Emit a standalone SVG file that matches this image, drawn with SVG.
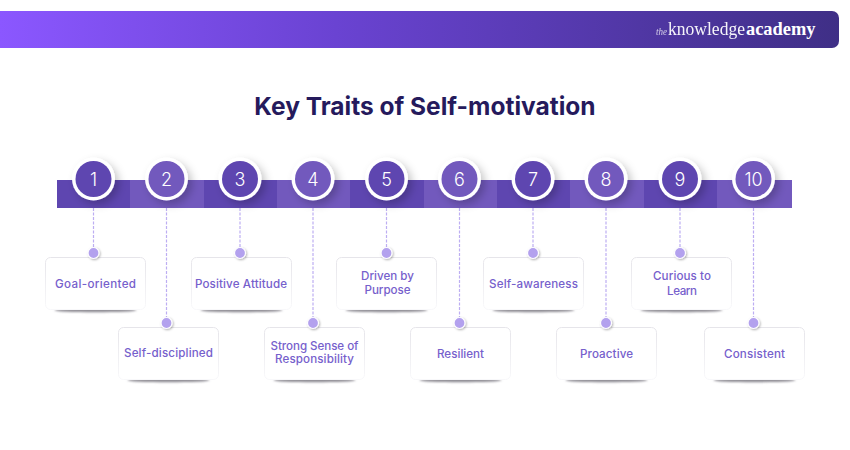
<svg xmlns="http://www.w3.org/2000/svg" width="850" height="450" viewBox="0 0 850 450">
<style>
text{font-family:"Inter","Liberation Sans",sans-serif}
.title{font-size:24.5px;font-weight:700;fill:#251a5c;text-anchor:middle}
.label{font-size:11.600px;font-weight:500;fill:#7660cc;text-anchor:middle}
.num{font-size:18px;font-weight:300;fill:#fff;text-anchor:middle}
.card{fill:#fff;stroke:url(#cardline);stroke-width:1}
.ring{fill:#fff;filter:url(#ds)}
.d{fill:#5e46b0}.l{fill:#7259bd}
.conn{stroke:#bdaef2;stroke-width:1.200;stroke-dasharray:3 1.500;fill:none}
.dot{fill:#b3a1ee;stroke:#fff;stroke-width:1.200;filter:url(#ds2)}
.shade{fill:#8f8d94;filter:url(#bl)}
.logo{font-family:"Liberation Serif",serif;fill:#fff}
</style>
<defs>
<linearGradient id="hdr" x1="0" y1="0" x2="1" y2="0"><stop offset="0" stop-color="#8b57ff"/><stop offset=".4" stop-color="#6a43d2"/><stop offset="1" stop-color="#3f2f86"/></linearGradient>
<linearGradient id="cardline" x1="0" y1="0" x2="0" y2="1"><stop offset="0" stop-color="#e6e5ea"/><stop offset="1" stop-color="#f8f8fa"/></linearGradient>
<filter id="ds" x="-50%" y="-50%" width="220%" height="220%"><feDropShadow dx="4" dy="4" stdDeviation="4" flood-color="#000" flood-opacity=".22"/></filter>
<filter id="ds2" x="-50%" y="-50%" width="200%" height="200%"><feDropShadow dx="1" dy="1" stdDeviation=".8" flood-color="#000" flood-opacity=".3"/></filter>
<filter id="bl" x="-20%" y="-200%" width="140%" height="500%"><feGaussianBlur stdDeviation="1.200"/></filter>
</defs>
<g id="header">
<path d="M0 11H832a7 7 0 0 1 7 7V41a7 7 0 0 1-7 7H0Z" fill="url(#hdr)"/>
<text class="logo" x="656" y="35" font-size="11" font-style="italic" opacity=".75" textLength="11" lengthAdjust="spacingAndGlyphs">the</text>
<text class="logo" x="668" y="35" font-size="18" opacity=".95" textLength="77" lengthAdjust="spacingAndGlyphs">knowledge</text>
<text class="logo" x="746" y="35" font-size="18" font-weight="700" textLength="69.500" lengthAdjust="spacingAndGlyphs">academy</text>
</g>
<text class="title" x="425" y="115">Key Traits of Self-motivation</text>
<g id="bar">
<rect class="d" x="57" y="180" width="73" height="28"/><rect class="l" x="130" y="180" width="74" height="28"/><rect class="d" x="204" y="180" width="73" height="28"/><rect class="l" x="277" y="180" width="73" height="28"/><rect class="d" x="350" y="180" width="74" height="28"/><rect class="l" x="424" y="180" width="73" height="28"/><rect class="d" x="497" y="180" width="73" height="28"/><rect class="l" x="570" y="180" width="74" height="28"/><rect class="d" x="644" y="180" width="73" height="28"/><rect class="l" x="717" y="180" width="75" height="28"/>
</g>
<g id="connectors">
<path class="conn" d="M93.500 208V253M166.500 208V323M240 208V253M313 208V323M386.500 208V253M459.500 208V323M533 208V253M606 208V323M680 208V253M753.500 208V323"/>
</g>
<g id="node1"><circle class="ring" cx="93.500" cy="179" r="21.500"/><circle class="d" cx="93.500" cy="179" r="18"/><text class="num" x="93.500" y="185.500">1</text><ellipse class="shade" cx="95.500" cy="310" rx="41" ry="2.300"/><rect class="card" x="45.500" y="257.500" width="100" height="52" rx="5"/><circle class="dot" cx="93.500" cy="253" r="5.500"/><text class="label" x="95.500" y="287.500" textLength="81">Goal-oriented</text></g>
<g id="node2"><circle class="ring" cx="166.500" cy="179" r="21.500"/><circle class="l" cx="166.500" cy="179" r="18"/><text class="num" x="166.500" y="185.500">2</text><ellipse class="shade" cx="168.500" cy="380" rx="41" ry="2.300"/><rect class="card" x="118.500" y="327.500" width="100" height="52" rx="5"/><circle class="dot" cx="166.500" cy="323" r="5.500"/><text class="label" x="168.500" y="356.500" textLength="89">Self-disciplined</text></g>
<g id="node3"><circle class="ring" cx="240" cy="179" r="21.500"/><circle class="d" cx="240" cy="179" r="18"/><text class="num" x="240" y="185.500">3</text><ellipse class="shade" cx="241.500" cy="310" rx="41" ry="2.300"/><rect class="card" x="191.500" y="257.500" width="100" height="52" rx="5"/><circle class="dot" cx="240" cy="253" r="5.500"/><text class="label" x="241" y="287.500" textLength="92">Positive Attitude</text></g>
<g id="node4"><circle class="ring" cx="313" cy="179" r="21.500"/><circle class="l" cx="313" cy="179" r="18"/><text class="num" x="313" y="185.500">4</text><ellipse class="shade" cx="314.500" cy="380" rx="41" ry="2.300"/><rect class="card" x="264.500" y="327.500" width="100" height="52" rx="5"/><circle class="dot" cx="313" cy="323" r="5.500"/><text class="label" x="314.500" y="349.500" textLength="88">Strong Sense of</text><text class="label" x="314.500" y="363" textLength="79">Responsibility</text></g>
<g id="node5"><circle class="ring" cx="386.500" cy="179" r="21.500"/><circle class="d" cx="386.500" cy="179" r="18"/><text class="num" x="386.500" y="185.500">5</text><ellipse class="shade" cx="386.500" cy="310" rx="41" ry="2.300"/><rect class="card" x="336.500" y="257.500" width="100" height="52" rx="5"/><circle class="dot" cx="386.500" cy="253" r="5.500"/><text class="label" x="387.500" y="280" textLength="53">Driven by</text><text class="label" x="387.500" y="294" textLength="46">Purpose</text></g>
<g id="node6"><circle class="ring" cx="459.500" cy="179" r="21.500"/><circle class="l" cx="459.500" cy="179" r="18"/><text class="num" x="459.500" y="185.500">6</text><ellipse class="shade" cx="460.500" cy="380" rx="41" ry="2.300"/><rect class="card" x="410.500" y="327.500" width="100" height="52" rx="5"/><circle class="dot" cx="459.500" cy="323" r="5.500"/><text class="label" x="460.500" y="357.500" textLength="47">Resilient</text></g>
<g id="node7"><circle class="ring" cx="533" cy="179" r="21.500"/><circle class="d" cx="533" cy="179" r="18"/><text class="num" x="533" y="185.500">7</text><ellipse class="shade" cx="533.500" cy="310" rx="41" ry="2.300"/><rect class="card" x="483.500" y="257.500" width="100" height="52" rx="5"/><circle class="dot" cx="533" cy="253" r="5.500"/><text class="label" x="533.500" y="287.500" textLength="89">Self-awareness</text></g>
<g id="node8"><circle class="ring" cx="606" cy="179" r="21.500"/><circle class="l" cx="606" cy="179" r="18"/><text class="num" x="606" y="185.500">8</text><ellipse class="shade" cx="606.500" cy="380" rx="41" ry="2.300"/><rect class="card" x="556.500" y="327.500" width="100" height="52" rx="5"/><circle class="dot" cx="606" cy="323" r="5.500"/><text class="label" x="606.500" y="357.500" textLength="53">Proactive</text></g>
<g id="node9"><circle class="ring" cx="680" cy="179" r="21.500"/><circle class="d" cx="680" cy="179" r="18"/><text class="num" x="680" y="185.500">9</text><ellipse class="shade" cx="681.500" cy="310" rx="41" ry="2.300"/><rect class="card" x="631.500" y="257.500" width="100" height="52" rx="5"/><circle class="dot" cx="680" cy="253" r="5.500"/><text class="label" x="682" y="280" textLength="58">Curious to</text><text class="label" x="682" y="294.500" textLength="30">Learn</text></g>
<g id="node10"><circle class="ring" cx="753.500" cy="179" r="21.500"/><circle class="l" cx="753.500" cy="179" r="18"/><text class="num" x="753.500" y="185.500">10</text><ellipse class="shade" cx="754.500" cy="380" rx="41" ry="2.300"/><rect class="card" x="704.500" y="327.500" width="100" height="52" rx="5"/><circle class="dot" cx="753.500" cy="323" r="5.500"/><text class="label" x="754.500" y="357.500" textLength="61">Consistent</text></g>
</svg>
